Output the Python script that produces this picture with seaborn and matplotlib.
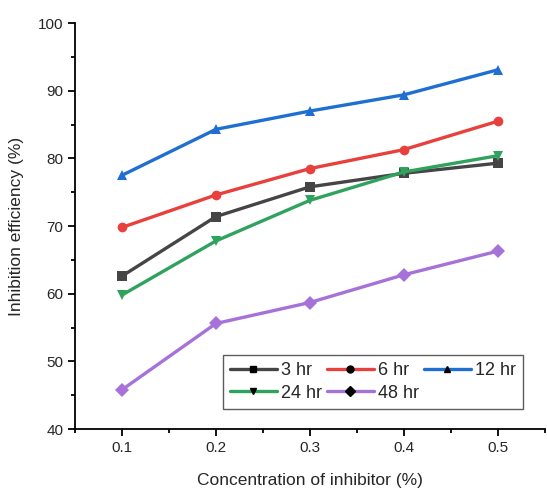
import matplotlib
matplotlib.use('Agg')
import matplotlib.pyplot as plt
from matplotlib.lines import Line2D
from matplotlib.ticker import MultipleLocator
import seaborn as sns
import pandas as pd

conc = [0.1, 0.2, 0.3, 0.4, 0.5]
eff_3hr = [62.6, 71.4, 75.8, 77.8, 79.3]
eff_6hr = [69.8, 74.6, 78.5, 81.3, 85.5]
eff_12hr = [77.5, 84.3, 87.0, 89.4, 93.1]
eff_24hr = [59.8, 67.8, 73.8, 78.0, 80.4]
eff_48hr = [45.8, 55.6, 58.7, 62.8, 66.3]
times = ['3 hr', '6 hr', '12 hr', '24 hr', '48 hr']

series = [eff_3hr, eff_6hr, eff_12hr, eff_24hr, eff_48hr]
rows = []
for t, vals in zip(times, series):
    for c, v in zip(conc, vals):
        rows.append((t, c, v))
df = pd.DataFrame(rows, columns=['time', 'conc', 'eff'])

colors = ['#454545', '#e8403c', '#1f6fd2', '#2fa35e', '#a672d9']
markers = ['s', 'o', '^', 'v', 'D']

sns.set_style('ticks')
plt.rcParams['font.family'] = ['Liberation Sans', 'DejaVu Sans']

fig = plt.figure(figsize=(5.47, 4.92), dpi=100)
ax = fig.add_axes([0.137, 0.128, 0.859, 0.825])

sns.lineplot(data=df, x='conc', y='eff', hue='time', style='time',
             palette=colors, markers=markers, dashes=False, linewidth=2.4,
             markersize=7, markeredgewidth=0, legend=False, ax=ax)

ax.set_xlim(0.05, 0.55)
ax.set_ylim(40, 100)
ax.xaxis.set_minor_locator(MultipleLocator(0.05))
ax.yaxis.set_major_locator(MultipleLocator(10))
ax.yaxis.set_minor_locator(MultipleLocator(5))
ax.set_xticks(conc)
ax.set_xticklabels(['0.1', '0.2', '0.3', '0.4', '0.5'])
ax.tick_params(which='major', direction='out', length=5, width=1.3, labelsize=11, color='black')
ax.tick_params(which='minor', direction='out', length=3, width=1.3, color='black')
for s in ['top', 'right']:
    ax.spines[s].set_visible(False)
for s in ['left', 'bottom']:
    ax.spines[s].set_linewidth(1.3)
    ax.spines[s].set_color('black')

ax.set_xlabel('Concentration of inhibitor (%)', fontsize=12.5, labelpad=13)
ax.set_ylabel('Inhibition efficiency (%)', fontsize=12.5, labelpad=10)

# legend filled row by row: 3, 6, 12 / 24, 48
order = [0, 3, 1, 4, 2]
handles = [Line2D([0], [0], color=colors[i], marker=markers[i], markerfacecolor='black',
                  markeredgecolor='black', markersize=5, linewidth=2.4)
           for i in order]
labels = [times[i] for i in order]
leg = ax.legend(handles, labels, ncol=3, loc='lower right',
                bbox_to_anchor=(0.953, 0.05), fontsize=13, frameon=True,
                fancybox=False, edgecolor='#333333', handlelength=2.6,
                handletextpad=0.2, columnspacing=0.3, labelspacing=0.3,
                borderpad=0.4, borderaxespad=0)
leg.get_frame().set_linewidth(1.0)

fig.savefig('out.png', dpi=100)
